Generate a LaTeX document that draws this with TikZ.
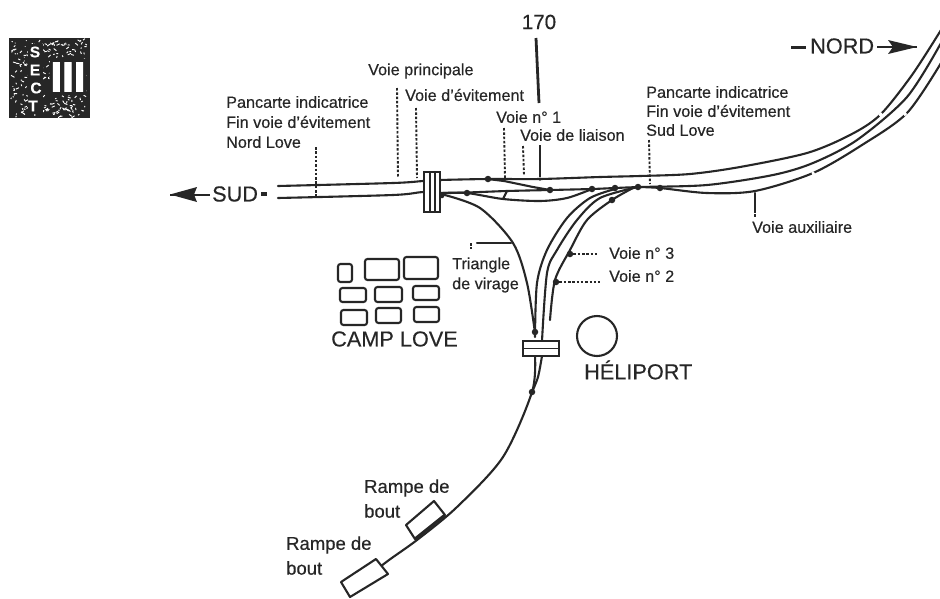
\documentclass[tikz,border=0pt]{standalone}
\usepackage{fontspec}
\setmainfont[FakeBold=0.35]{Liberation Sans}
\newfontfamily\fatfont[FakeBold=2.5]{Liberation Sans Bold}
\definecolor{ink}{HTML}{262626}
\tikzset{
  trk/.style={draw=ink,line width=2.1pt,line cap=round,line join=round},
  lead/.style={draw=ink,line width=1.9pt,dash pattern=on 2.5pt off 1.8pt},
  heavy/.style={draw=ink,line width=2.8pt},
  lbl/.style={inner sep=0pt,anchor=west,text=ink,font=\fontsize{16.2}{18}\selectfont},
  rmp/.style={inner sep=0pt,anchor=west,text=ink,font=\fontsize{18.5}{20}\selectfont},
  big/.style={inner sep=0pt,anchor=west,text=ink,font=\fontsize{21.7}{24}\selectfont},
  bldg/.style={draw=ink,line width=2.1pt,rounded corners=2.5pt},
  ramp/.style={draw=ink,line width=2.1pt,line join=round},
  dot/.style={circle,fill=ink,inner sep=0pt,minimum size=6.5pt},
  gap/.style={draw=white,line width=3pt},
  logo/.style={text=white,inner sep=0pt,font=\fontsize{15.5}{15.5}\selectfont\bfseries}
}
\begin{document}
\begin{tikzpicture}[x=1pt,y=-1pt]
\useasboundingbox (0,0) rectangle (940,598);
\fill[white] (0,0) rectangle (940,598);

% logo
\fill[ink] (9,38) rectangle (90,118);
\pgfmathsetseed{17}
\foreach \i in {1,...,260}{
  \pgfmathsetmacro{\xa}{11+rnd*76}
  \pgfmathsetmacro{\ya}{40+rnd*76}
  \pgfmathsetmacro{\dx}{(rnd-0.5)*7}
  \pgfmathsetmacro{\dy}{(rnd-0.5)*5}
  \draw[white,line width=0.9pt] (\xa,\ya) -- ++(\dx,\dy);
}
\fill[ink] (28,44) rectangle (43,114);
\fill[ink] (50,59) rectangle (86,95);
\node[logo] (ls) at (35,52) {S};
\node[logo] (le) at (35,70) {E};
\node[logo] (lc) at (36,88) {C};
\node[logo] (lt) at (33,106) {T};
\node[text=white,inner sep=0pt,font=\fontsize{42}{42}\fatfont] (liii) at (68,77) {III};

% main tracks
\draw[trk] plot[smooth] coordinates {(278,186) (393,183) (423,181) (440,180) (488,179) (540,179) (600,177) (640,176) (690,174) (740,167) (807,153) (850,135) (880,115) (912,75) (941,30)};
\draw[trk] plot[smooth] coordinates {(278,198) (393,195) (423,192) (443,193) (467,192.5) (507,191) (550,190) (592,189) (615,188) (640,187) (707,185) (773,175) (813,163) (857,140) (907,97) (941,43)};
\draw[trk] plot[smooth] coordinates {(638,187) (660,188) (707,193) (755,191) (813,173) (862,145) (907,113) (941,63)};
% siding and loop
\draw[trk] (488,179) -- (504,181) -- (533,187) -- (550,190);
\draw[trk] plot[smooth] coordinates {(443,193) (467,193) (503,199) (540,201) (567,198) (592,189)};
\draw[trk] (507,191) -- (503,199);
% triangle
\draw[trk] plot[smooth] coordinates {(441,194) (480,208) (513,243) (527,283) (535,333)};
\draw[trk] plot[smooth] coordinates {(615,189) (590,198) (567,218) (547,250) (537,283) (535,337)};
\draw[trk] plot[smooth] coordinates {(638,187) (600,198) (577,220) (557,250) (547,273) (542,341)};
\draw[trk] plot[smooth] coordinates {(633,188) (612,200) (587,220) (570,250) (555,280) (550,320)};
% south line
\draw[trk] plot[smooth] coordinates {(535,356) (532,392) (503,457) (457,507) (417,540) (385,563) (352,590)};
\draw[trk] plot[smooth] coordinates {(542,356) (538,377) (532,392)};
% line gaps
\draw[gap] (879.5,116) -- (882,113.5);
\draw[gap] (812,174) -- (814.5,172.8);
\draw[gap] (903.8,115) -- (906.2,113);

% junction dots
\node[dot] (d1) at (488,179) {};
\node[dot,minimum size=3.5pt] (d2) at (540,179) {};
\node[dot] (d3) at (467,193) {};
\node[dot] (d4) at (550,190) {};
\node[dot] (d5) at (592,189) {};
\node[dot] (d6) at (615,188) {};
\node[dot] (d7) at (638,187) {};
\node[dot] (d8) at (660,188) {};
\node[dot] (d9) at (612,200) {};
\node[dot] (d10) at (535,332) {};
\node[dot] (d11) at (532,392) {};
\node[dot,minimum size=4.5pt] (d12) at (442,196) {};
\node[dot] (d13) at (570,254) {};
\node[dot] (d14) at (556,282) {};

% bridges
\draw[draw=ink,line width=2.1pt,fill=white] (424,172) rectangle (440,212);
\draw[ink,line width=1.4pt] (430,172) -- (430,212) (435,172) -- (435,212);
\draw[draw=ink,line width=2.4pt,fill=white] (523,341) rectangle (559,356);
\draw[ink,line width=1.8pt] (523,348.5) -- (559,348.5);

% heliport and camp
\draw[ink,line width=2.1pt] (597,336) circle[radius=20];
\draw[bldg] (338,264) rectangle (352,282);
\draw[bldg] (365,259) rectangle (399,280);
\draw[bldg] (404,257) rectangle (438,279);
\draw[bldg] (340,288) rectangle (366,302);
\draw[bldg] (375,287) rectangle (402,302);
\draw[bldg] (413,286) rectangle (439,300);
\draw[bldg] (341,310) rectangle (367,325);
\draw[bldg] (376,308) rectangle (401,323);
\draw[bldg] (414,307) rectangle (439,322);

% end ramps
\draw[ramp,fill=white] (406,525) -- (434,501) -- (445,515) -- (415,539) -- cycle;
\draw[ink,line width=3pt] (415,539) -- (445,515);
\draw[ramp,fill=white] (341,582) -- (376,559) -- (388,574) -- (350,597) -- cycle;

% text
\node[inner sep=0pt,text=ink,font=\fontsize{20.5}{22}\selectfont] (n170) at (539,22) {170};
\node[big] (nord) at (810,46) {NORD};
\node[big] (sud) at (212,194) {SUD};
\node[big] (camp) at (331,339) {CAMP LOVE};
\node[big] (heli) at (584,370) {HÉLIPORT};
\node[lbl] (vp) at (368,71) {Voie principale};
\node[lbl] (ve) at (405,95) {Voie d'évitement};
\node[lbl] (v1) at (496,117) {Voie n° 1};
\node[lbl] (vl) at (520,135) {Voie de liaison};
\node[lbl] (ps1) at (646,92) {Pancarte indicatrice};
\node[lbl] (ps2) at (646,111) {Fin voie d'évitement};
\node[lbl] (ps3) at (646,130) {Sud Love};
\node[lbl] (pn1) at (226,102) {Pancarte indicatrice};
\node[lbl] (pn2) at (226,122) {Fin voie d'évitement};
\node[lbl] (pn3) at (226,142) {Nord Love};
\node[lbl] (tr1) at (452,265) {Triangle};
\node[lbl] (tr2) at (452,285) {de virage};
\node[lbl] (v3) at (609,253) {Voie n° 3};
\node[lbl] (v2) at (609,276) {Voie n° 2};
\node[lbl] (va) at (752,227) {Voie auxiliaire};
\node[rmp] (r1a) at (364,488) {Rampe de};
\node[rmp] (r1b) at (364,511) {bout};
\node[rmp] (r2a) at (286,545) {Rampe de};
\node[rmp] (r2b) at (286,568) {bout};

% leaders
\draw[heavy] (536,38) -- (539,103);
\draw[heavy] (540,145) -- (d2);
\draw[lead] (504,128) -- (505,178);
\draw[lead] (523,146) -- (524,175);
\draw[lead] (397,88) -- (398,178);
\draw[lead] (416,108) -- (417,178);
\draw[lead] (316,147) -- (316,196);
\draw[lead] (649,140) -- (650,184);
\draw[trk] (755,193) -- (755,210);
\draw[lead] (755,210) -- (755,218);
\draw[trk] (477,243) -- (511,243);
\draw[lead] (471,243) -- (471,249);
\draw[lead] (d13) -- (598,254);
\draw[lead] (d14) -- (600,282);

% direction arrows
\fill[ink] (791,46) rectangle (806,48.5);
\draw[ink,line width=2pt] (877,47) -- (917,47);
\fill[ink] (917,47) -- (888,40) -- (893,47) -- (888,54) -- cycle;
\draw[ink,line width=2pt] (170,194.5) -- (210,194.5);
\fill[ink] (170,194.5) -- (197,187) -- (194,194.5) -- (197,202) -- cycle;
\fill[ink] (261,192) rectangle (267,196);
\end{tikzpicture}
\end{document}
